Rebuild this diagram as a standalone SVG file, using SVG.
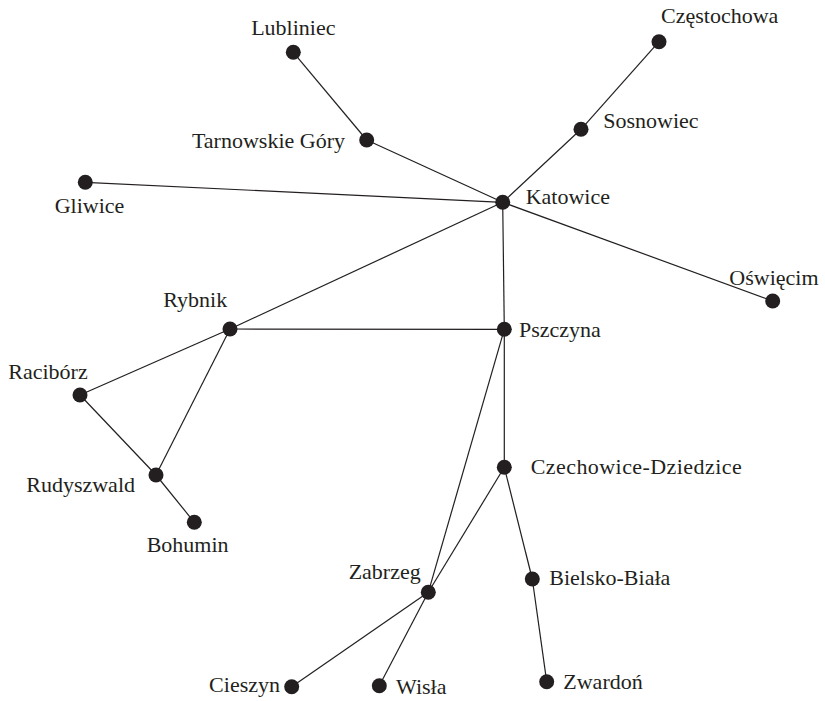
<svg xmlns="http://www.w3.org/2000/svg" width="825" height="701" viewBox="0 0 825 701">
<style>
.e{stroke:#231f20;stroke-width:1.2;fill:none}
.n circle{fill:#231f20}
text{font-family:"Liberation Serif","Times New Roman",serif;font-size:22px;fill:#231f20}
</style>
<rect width="825" height="701" fill="#fff"/>
<g id="connectors">
<line class="e" x1="293.3" y1="52.3" x2="366.7" y2="140"/>
<line class="e" x1="366.7" y1="140" x2="502.7" y2="202.3"/>
<line class="e" x1="659" y1="41.7" x2="581" y2="129.3"/>
<line class="e" x1="581" y1="129.3" x2="502.7" y2="202.3"/>
<line class="e" x1="85.3" y1="182.3" x2="502.7" y2="202.3"/>
<line class="e" x1="502.7" y1="202.3" x2="772.7" y2="301"/>
<line class="e" x1="502.7" y1="202.3" x2="230" y2="329"/>
<line class="e" x1="502.7" y1="202.3" x2="504.3" y2="329.3"/>
<line class="e" x1="230" y1="329" x2="504.3" y2="329.3"/>
<line class="e" x1="230" y1="329" x2="80" y2="395"/>
<line class="e" x1="230" y1="329" x2="156" y2="475"/>
<line class="e" x1="80" y1="395" x2="156" y2="475"/>
<line class="e" x1="156" y1="475" x2="194.3" y2="522.3"/>
<line class="e" x1="504.3" y1="329.3" x2="504.3" y2="467.3"/>
<line class="e" x1="504.3" y1="329.3" x2="428.3" y2="592.3"/>
<line class="e" x1="504.3" y1="467.3" x2="428.3" y2="592.3"/>
<line class="e" x1="504.3" y1="467.3" x2="532.3" y2="579"/>
<line class="e" x1="532.3" y1="579" x2="546.7" y2="681.7"/>
<line class="e" x1="428.3" y1="592.3" x2="291.7" y2="686.7"/>
<line class="e" x1="428.3" y1="592.3" x2="379.3" y2="685.7"/>
</g>
<g id="lubliniec" class="n"><circle cx="293.3" cy="52.3" r="7.5"/><text x="293.3" y="35" text-anchor="middle">Lubliniec</text></g>
<g id="czestochowa" class="n"><circle cx="659" cy="41.7" r="7.5"/><text x="661" y="22.7">Częstochowa</text></g>
<g id="sosnowiec" class="n"><circle cx="581" cy="129.3" r="7.5"/><text x="603.3" y="128.3">Sosnowiec</text></g>
<g id="tarnowskie-gory" class="n"><circle cx="366.7" cy="140" r="7.5"/><text x="345" y="147.7" text-anchor="end">Tarnowskie Góry</text></g>
<g id="gliwice" class="n"><circle cx="85.3" cy="182.3" r="7.5"/><text x="89.5" y="213.3" text-anchor="middle">Gliwice</text></g>
<g id="katowice" class="n"><circle cx="502.7" cy="202.3" r="7.5"/><text x="525.7" y="204">Katowice</text></g>
<g id="oswiecim" class="n"><circle cx="772.7" cy="301" r="7.5"/><text x="729.3" y="285">Oświęcim</text></g>
<g id="rybnik" class="n"><circle cx="230" cy="329" r="7.5"/><text x="163.3" y="306.7">Rybnik</text></g>
<g id="pszczyna" class="n"><circle cx="504.3" cy="329.3" r="7.5"/><text x="519" y="337">Pszczyna</text></g>
<g id="raciborz" class="n"><circle cx="80" cy="395" r="7.5"/><text x="8.3" y="379">Racibórz</text></g>
<g id="rudyszwald" class="n"><circle cx="156" cy="475" r="7.5"/><text x="135" y="492.3" text-anchor="end">Rudyszwald</text></g>
<g id="bohumin" class="n"><circle cx="194.3" cy="522.3" r="7.5"/><text x="146.7" y="551.7">Bohumin</text></g>
<g id="czechowice-dziedzice" class="n"><circle cx="504.3" cy="467.3" r="7.5"/><text x="530.7" y="474" textLength="211" lengthAdjust="spacing">Czechowice-Dziedzice</text></g>
<g id="bielsko-biala" class="n"><circle cx="532.3" cy="579" r="7.5"/><text x="549.3" y="585">Bielsko-Biała</text></g>
<g id="zabrzeg" class="n"><circle cx="428.3" cy="592.3" r="7.5"/><text x="420.7" y="579" text-anchor="end">Zabrzeg</text></g>
<g id="cieszyn" class="n"><circle cx="291.7" cy="686.7" r="7.5"/><text x="280" y="691.7" text-anchor="end">Cieszyn</text></g>
<g id="wisla" class="n"><circle cx="379.3" cy="685.7" r="7.5"/><text x="396" y="694">Wisła</text></g>
<g id="zwardon" class="n"><circle cx="546.7" cy="681.7" r="7.5"/><text x="563.3" y="689">Zwardoń</text></g>
</svg>
